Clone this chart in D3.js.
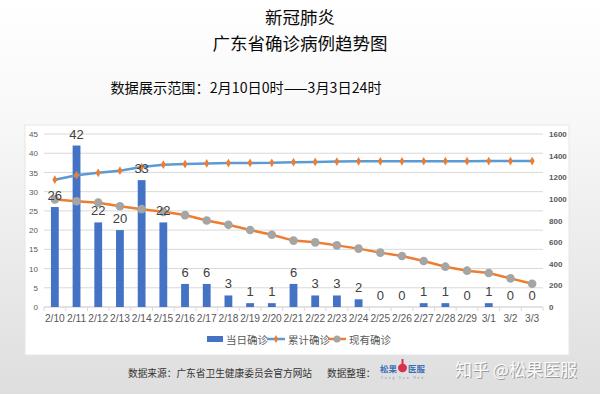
<!DOCTYPE html>
<meta charset="utf-8">
<style>
    body { margin: 0; }
    svg { display: block; font-family: "Noto Sans CJK SC", "Noto Sans", sans-serif; }
    .grid line { stroke: #d9d9d9; stroke-width: 1; }
    .axis text { fill: #595959; }
    .axis path, .axis line { stroke: #d9d9d9; }
</style>
<body>
</body>
<script src="https://cdn.jsdelivr.net/npm/d3@7/dist/d3.min.js"></script>
<script>

    // categories and series
    var dates = ["2/10","2/11","2/12","2/13","2/14","2/15","2/16","2/17","2/18","2/19","2/20","2/21",
                 "2/22","2/23","2/24","2/25","2/26","2/27","2/28","2/29","3/1","3/2","3/3"];
    var daily = [26,42,22,20,33,22,6,6,3,1,1,6,3,3,2,0,0,1,1,0,1,0,0];
    var total = [1177,1219,1241,1261,1294,1316,1322,1328,1331,1332,1333,1339,1342,1345,1347,1347,1347,1348,1349,1349,1350,1350,1350];
    var current = [995,978,965,932,905,880,850,800,760,712,668,614,598,570,540,503,472,425,373,336,314,265,215];

    var leftTicks = [0,5,10,15,20,25,30,35,40,45];
    var rightTicks = [0,200,400,600,800,1000,1200,1400,1600];

    var W = 600, H = 394;
    var plot = {left: 44, right: 543, top: 134, bottom: 307};

    var svg = d3.select("body").append("svg")
        .attr("width", W)
        .attr("height", H);

    // background gradient
    var defs = svg.append("defs");
    var grad = defs.append("linearGradient").attr("id", "bg")
        .attr("x1", 0).attr("y1", 0).attr("x2", 0).attr("y2", 1);
    grad.append("stop").attr("offset", "0%").attr("stop-color", "#ffffff");
    grad.append("stop").attr("offset", "30%").attr("stop-color", "#f8f8f8");
    grad.append("stop").attr("offset", "100%").attr("stop-color", "#dedede");
    svg.append("rect").attr("width", W).attr("height", H).attr("fill", "url(#bg)");

    // titles
    svg.append("text").attr("x", 300).attr("y", 24).attr("text-anchor", "middle")
        .attr("font-size", 17.5).attr("fill", "#0a0a0a").text("新冠肺炎");
    svg.append("text").attr("x", 300).attr("y", 50).attr("text-anchor", "middle")
        .attr("font-size", 17.5).attr("fill", "#0a0a0a").text("广东省确诊病例趋势图");
    svg.append("text").attr("x", 246).attr("y", 93).attr("text-anchor", "middle")
        .attr("font-size", 14.2).attr("fill", "#0a0a0a").text("数据展示范围：2月10日0时——3月3日24时");

    // chart panel
    svg.append("rect").attr("x", 25).attr("y", 125).attr("width", 544).attr("height", 230)
        .attr("fill", "#fff").attr("stroke", "#e6e6e6");

    var x = d3.scaleBand().domain(dates).range([plot.left, plot.right]).paddingInner(0.64).paddingOuter(0.32);
    var yL = d3.scaleLinear().domain([0, 45]).range([plot.bottom, plot.top]);
    var yR = d3.scaleLinear().domain([0, 1600]).range([plot.bottom, plot.top]);
    var cx = function(d, i) { return x(dates[i]) + x.bandwidth() / 2; };

    // gridlines
    svg.append("g").attr("class", "grid")
        .selectAll("line").data(leftTicks).enter().append("line")
        .attr("x1", plot.left).attr("x2", plot.right)
        .attr("y1", function(d) { return yL(d); }).attr("y2", function(d) { return yL(d); });

    // left axis
    var gl = svg.append("g").attr("class", "axis")
        .attr("transform", "translate(" + plot.left + ",0)")
        .call(d3.axisLeft(yL).tickValues(leftTicks).tickSize(0).tickPadding(6));
    gl.select(".domain").remove();
    gl.selectAll("text").attr("font-size", 8).attr("font-family", "Liberation Sans, Arial, sans-serif");

    // right axis
    var gr = svg.append("g").attr("class", "axis")
        .attr("transform", "translate(" + plot.right + ",0)")
        .call(d3.axisRight(yR).tickValues(rightTicks).tickFormat(d3.format("d")).tickSize(0).tickPadding(6));
    gr.select(".domain").remove();
    gr.selectAll("text").attr("font-size", 8).attr("font-weight", "bold")
        .attr("font-family", "Liberation Sans, Arial, sans-serif");

    // x axis
    var gx = svg.append("g").attr("class", "axis")
        .attr("transform", "translate(0," + plot.bottom + ")")
        .call(d3.axisBottom(x).tickSize(0).tickPadding(8));
    gx.select(".domain").attr("d", "M" + plot.left + ",0H" + plot.right);
    gx.selectAll("text").attr("font-size", 10.2).attr("font-family", "Liberation Sans, Arial, sans-serif");
    // boundary ticks between categories
    var step = x.step();
    gx.selectAll(".bt").data(d3.range(dates.length + 1)).enter().append("line")
        .attr("x1", function(i) { return plot.left + i * step; })
        .attr("x2", function(i) { return plot.left + i * step; })
        .attr("y1", 0).attr("y2", 4).attr("stroke", "#d9d9d9");

    // bars
    svg.selectAll(".bar").data(daily).enter().append("rect")
        .attr("class", "bar")
        .attr("x", function(d, i) { return x(dates[i]); })
        .attr("y", function(d) { return yL(d); })
        .attr("width", x.bandwidth())
        .attr("height", function(d) { return plot.bottom - yL(d); })
        .attr("fill", "#4472c4");

    // cumulative line
    var lineR = d3.line().x(cx).y(function(d) { return yR(d); });
    svg.append("path").datum(total).attr("d", lineR)
        .attr("fill", "none").attr("stroke", "#5b9bd5").attr("stroke-width", 2.5);
    svg.selectAll(".tm").data(total).enter().append("path")
        .attr("d", d3.symbol().type(d3.symbolDiamond).size(22))
        .attr("transform", function(d, i) { return "translate(" + cx(d, i) + "," + yR(d) + ")"; })
        .attr("fill", "#ed7d31");

    // current line
    svg.append("path").datum(current).attr("d", lineR)
        .attr("fill", "none").attr("stroke", "#ed7d31").attr("stroke-width", 2.5);
    svg.selectAll(".cm").data(current).enter().append("circle")
        .attr("cx", cx).attr("cy", function(d) { return yR(d); })
        .attr("r", 4.3).attr("fill", "#a5a5a5");

    // data labels for daily bars
    svg.selectAll(".lbl").data(daily).enter().append("text")
        .attr("x", cx)
        .attr("y", function(d) { return yL(d) - 7; })
        .attr("text-anchor", "middle")
        .attr("font-size", 13)
        .attr("font-family", "Liberation Sans, Arial, sans-serif")
        .attr("fill", "#404040")
        .text(function(d) { return d; });

    // legend
    var lg = svg.append("g").attr("font-size", 10.5).attr("fill", "#595959");
    lg.append("rect").attr("x", 207).attr("y", 336).attr("width", 16).attr("height", 6).attr("fill", "#4472c4");
    lg.append("text").attr("x", 226).attr("y", 343.5).text("当日确诊");
    lg.append("line").attr("x1", 267).attr("x2", 285).attr("y1", 339).attr("y2", 339)
        .attr("stroke", "#5b9bd5").attr("stroke-width", 2.5);
    lg.append("path").attr("d", d3.symbol().type(d3.symbolDiamond).size(18))
        .attr("transform", "translate(276,339)").attr("fill", "#ed7d31");
    lg.append("text").attr("x", 288).attr("y", 343.5).text("累计确诊");
    lg.append("line").attr("x1", 328).attr("x2", 346).attr("y1", 339).attr("y2", 339)
        .attr("stroke", "#ed7d31").attr("stroke-width", 2.5);
    lg.append("circle").attr("cx", 337).attr("cy", 339).attr("r", 3.5).attr("fill", "#a5a5a5");
    lg.append("text").attr("x", 349).attr("y", 343.5).text("现有确诊");

    // footer
    svg.append("text").attr("x", 128).attr("y", 377).attr("font-size", 9.7).attr("fill", "#333")
        .text("数据来源：广东省卫生健康委员会官方网站");
    svg.append("text").attr("x", 327).attr("y", 377).attr("font-size", 9.7).attr("fill", "#333")
        .text("数据整理：");

    // logo
    var logo = svg.append("g");
    logo.append("text").attr("x", 380).attr("y", 372).attr("font-size", 8.5).attr("font-weight", "bold")
        .attr("fill", "#3b6fb6").text("松果");
    logo.append("ellipse").attr("cx", 402.5).attr("cy", 368).attr("rx", 4.5).attr("ry", 4.2).attr("fill", "#d9304f");
    logo.append("rect").attr("x", 401.5).attr("y", 359).attr("width", 2).attr("height", 6).attr("fill", "#d9304f");
    logo.append("text").attr("x", 408).attr("y", 372).attr("font-size", 8.5).attr("font-weight", "bold")
        .attr("fill", "#3b6fb6").text("医服");
    logo.append("text").attr("x", 381).attr("y", 379).attr("font-size", 3).attr("fill", "#7a8fb0")
        .attr("letter-spacing", 2).text("Song Guo Med");

    // watermark
    svg.append("text").attr("x", 456).attr("y", 377).attr("font-size", 17).attr("fill", "#9a9a9a")
        .text("知乎 @松果医服");
    svg.append("text").attr("x", 455).attr("y", 376).attr("font-size", 17).attr("fill", "#fbfbfb")
        .text("知乎 @松果医服");

</script>
